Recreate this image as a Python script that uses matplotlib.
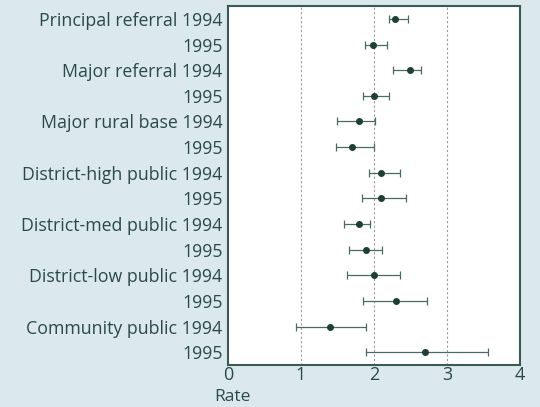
import numpy as np
import matplotlib.pyplot as plt

# hospital groups, two years each
labels = ['Principal referral 1994', '1995',
          'Major referral 1994', '1995',
          'Major rural base 1994', '1995',
          'District-high public 1994', '1995',
          'District-med public 1994', '1995',
          'District-low public 1994', '1995',
          'Community public 1994', '1995']
rate = [2.29, 1.99, 2.49, 2.00, 1.80, 1.70, 2.10, 2.09, 1.80, 1.89, 2.00, 2.30, 1.40, 2.70]
lower = [2.21, 1.87, 2.26, 1.85, 1.49, 1.48, 1.93, 1.84, 1.59, 1.66, 1.63, 1.85, 0.93, 1.89]
upper = [2.47, 2.18, 2.64, 2.21, 2.02, 2.00, 2.35, 2.44, 1.95, 2.11, 2.35, 2.73, 1.89, 3.56]
xticks = [0, 1, 2, 3, 4]

bg = '#dbe9ec'
txt = '#2b4a46'
dark = '#1d3f36'

rate = np.array(rate)
lower = np.array(lower)
upper = np.array(upper)
ypos = np.arange(len(labels))

fig = plt.figure(figsize=(5.4, 4.07), dpi=100)
fig.patch.set_facecolor(bg)
ax = fig.add_axes([0.4222, 0.103, 0.5408, 0.882])
ax.set_facecolor('white')

#dotted reference lines
for xv in [1, 2, 3]:
    ax.axvline(xv, color='#9a9a9a', lw=0.8, ls=(0, (2, 2)), zorder=1)

ax.errorbar(rate, ypos, xerr=[rate - lower, upper - rate], fmt='o', color=dark,
            ecolor='#4a6a62', elinewidth=0.9, capsize=3, capthick=0.9, ms=4, zorder=3)

ax.set_xlim(0, 4)
ax.set_ylim(len(labels) - 0.5, -0.5)
ax.set_xticks(xticks)
ax.set_yticks(ypos)
ax.set_yticklabels(labels, fontsize=12.8, color=txt, family='Open Sans')
ax.set_xticklabels([str(v) for v in xticks], fontsize=13, color=txt, family='Open Sans')
ax.tick_params(axis='both', length=0)
ax.tick_params(axis='y', pad=4)
ax.tick_params(axis='x', pad=1)
for s in ax.spines.values():
    s.set_color('#3c5a55')
    s.set_linewidth(1.5)

fig.text(0.396, 0.006, 'Rate', fontsize=12.5, color=txt, family='Open Sans', ha='left', va='bottom')

fig.savefig('out.png', dpi=100, facecolor=bg)
